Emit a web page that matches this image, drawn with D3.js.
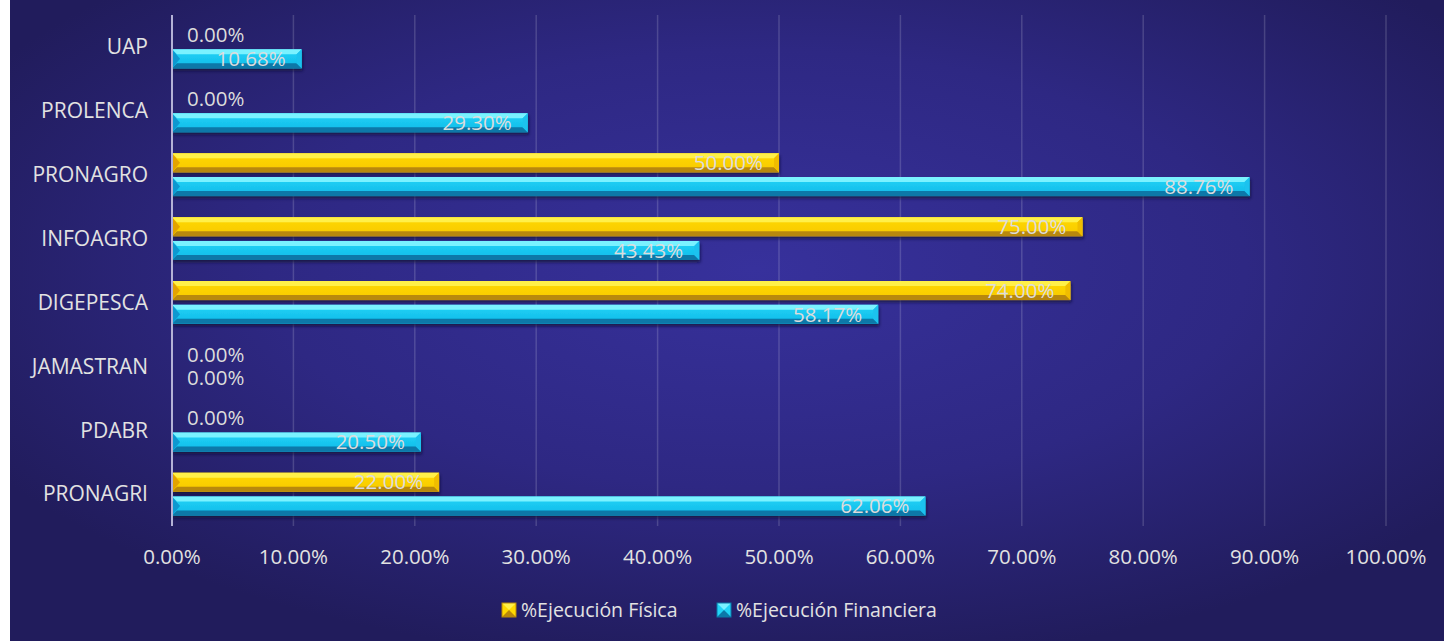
<!DOCTYPE html>
<html>
<head>
<meta charset="utf-8">
<script src="https://cdn.jsdelivr.net/npm/d3@7"></script>
<style>
  html,body{margin:0;padding:0;background:#fff;}
  svg{display:block;}
  text{font-family:"Open Sans",sans-serif;}
</style>
</head>
<body>
<svg id="chart" width="1444" height="641"></svg>
<script>
const categories=["UAP","PROLENCA","PRONAGRO","INFOAGRO","DIGEPESCA","JAMASTRAN","PDABR","PRONAGRI"];
const fisica=[0,0,50,75,74,0,0,22];
const financiera=[10.68,29.30,88.76,43.43,58.17,0,20.50,62.06];
const seriesNames=["%Ejecución Física","%Ejecución Financiera"];
const xTicks=[0,10,20,30,40,50,60,70,80,90,100];

const W=1444,H=641;
const m={top:15,right:58,bottom:115,left:172};
const svg=d3.select("#chart");
const defs=svg.append("defs");

// background
const bg=defs.append("radialGradient").attr("id","bg")
  .attr("cx","0.52").attr("cy","0.42").attr("r","0.62");
bg.append("stop").attr("offset","0").attr("stop-color","#37319c");
bg.append("stop").attr("offset","0.55").attr("stop-color","#2e2883");
bg.append("stop").attr("offset","1").attr("stop-color","#211c5c");
svg.append("rect").attr("x",10).attr("y",0).attr("width",W-10).attr("height",H).attr("fill","url(#bg)");

defs.append("filter").attr("id","shadow").attr("x","-5%").attr("y","-40%").attr("width","110%").attr("height","200%")
  .append("feDropShadow").attr("dx",1).attr("dy",2.5).attr("stdDeviation",1.5)
  .attr("flood-color","#0a0830").attr("flood-opacity",0.7);

const styles=[
  {top:"#fff04a",mid1:"#ffd900",mid2:"#f7c800",bottom:"#b8880a",left:"#e3a300",right:"#f0bd00"},
  {top:"#7af2ff",mid1:"#22d4f7",mid2:"#10b9e8",bottom:"#0b78a8",left:"#0a98d0",right:"#1cc2ee"}
];
styles.forEach((s,i)=>{
  const g=defs.append("linearGradient").attr("id","mid"+i).attr("x1",0).attr("y1",0).attr("x2",0).attr("y2",1);
  g.append("stop").attr("offset","0").attr("stop-color",s.mid1);
  g.append("stop").attr("offset","1").attr("stop-color",s.mid2);
});

const x=d3.scaleLinear().domain([0,100]).range([m.left,W-m.right]);
const y=d3.scaleBand().domain(categories).range([m.top,H-m.bottom]).paddingInner(0.33).paddingOuter(0.165);
const ys=d3.scaleBand().domain([0,1]).range([0,y.bandwidth()]).paddingInner(0.2);

// grid
svg.append("g").selectAll("line").data(xTicks.slice(1)).enter().append("line")
  .attr("x1",d=>x(d)).attr("x2",d=>x(d))
  .attr("y1",m.top).attr("y2",H-m.bottom)
  .attr("stroke","#ffffff").attr("stroke-opacity",0.16).attr("stroke-width",1.5);

const rows=[];
categories.forEach((c,i)=>{
  rows.push({cat:c,s:0,v:fisica[i]});
  rows.push({cat:c,s:1,v:financiera[i]});
});

const bars=svg.append("g");
rows.filter(d=>d.v>0).forEach(d=>{
  const x0=x(0),x1=x(d.v),t=y(d.cat)+ys(d.s),h=ys.bandwidth(),st=styles[d.s];
  const b=Math.min(5,(x1-x0)/2);
  const g=bars.append("g").attr("filter","url(#shadow)");
  g.append("rect").attr("x",x0).attr("y",t).attr("width",x1-x0).attr("height",h).attr("fill","url(#mid"+d.s+")");
  const poly=(pts,fill)=>g.append("polygon").attr("points",pts.map(p=>p.join(",")).join(" ")).attr("fill",fill);
  poly([[x0,t],[x1,t],[x1-b,t+b],[x0+b,t+b]],st.top);
  poly([[x0,t+h],[x1,t+h],[x1-b,t+h-b],[x0+b,t+h-b]],st.bottom);
  poly([[x0,t],[x0+b+3,t+h/2],[x0,t+h]],st.left);
  poly([[x1,t],[x1-b,t+b],[x1-b,t+h-b],[x1,t+h]],st.right);
});

// axis line at zero
svg.append("line").attr("x1",x(0)).attr("x2",x(0)).attr("y1",m.top).attr("y2",H-m.bottom)
  .attr("stroke","#b4b2d6").attr("stroke-width",2);

// data labels
svg.append("g").selectAll("text").data(rows).enter().append("text")
  .attr("x",d=>d.v>0?x(d.v)-16:x(0)+15)
  .attr("y",d=>y(d.cat)+ys(d.s)+ys.bandwidth()/2)
  .attr("dy","0.35em")
  .attr("text-anchor",d=>d.v>0?"end":"start")
  .attr("font-size",20.5).attr("fill","#dcdcdc")
  .text(d=>d.v.toFixed(2)+"%");

// category labels
svg.append("g").selectAll("text").data(categories).enter().append("text")
  .attr("x",m.left-24).attr("y",d=>y(d)+y.bandwidth()/2).attr("dy","0.35em")
  .attr("text-anchor","end").attr("font-size",21).attr("fill","#e2e2e2")
  .text(d=>d);

// x tick labels
svg.append("g").selectAll("text").data(xTicks).enter().append("text")
  .attr("x",d=>x(d)).attr("y",557).attr("dy","0.35em")
  .attr("text-anchor","middle").attr("font-size",20.5).attr("fill","#e2e2e2")
  .text(d=>d.toFixed(2)+"%");

// legend
const legX=[502,717];
seriesNames.forEach((n,i)=>{
  const st=styles[i],lx=legX[i],ly=603,s=14;
  const g=svg.append("g");
  g.append("rect").attr("x",lx).attr("y",ly).attr("width",s).attr("height",s).attr("fill",st.mid1);
  g.append("polygon").attr("points",`${lx},${ly} ${lx+s},${ly} ${lx+s/2},${ly+s/2}`).attr("fill",st.top);
  g.append("polygon").attr("points",`${lx},${ly+s} ${lx+s},${ly+s} ${lx+s/2},${ly+s/2}`).attr("fill",st.bottom);
  g.append("rect").attr("x",lx).attr("y",ly).attr("width",s).attr("height",s).attr("fill","none").attr("stroke",st.bottom).attr("stroke-width",1);
  g.append("text").attr("x",lx+19).attr("y",ly+s/2).attr("dy","0.35em")
    .attr("font-size",19.5).attr("fill","#e2e2e2").text(n);
});
</script>
</body>
</html>
